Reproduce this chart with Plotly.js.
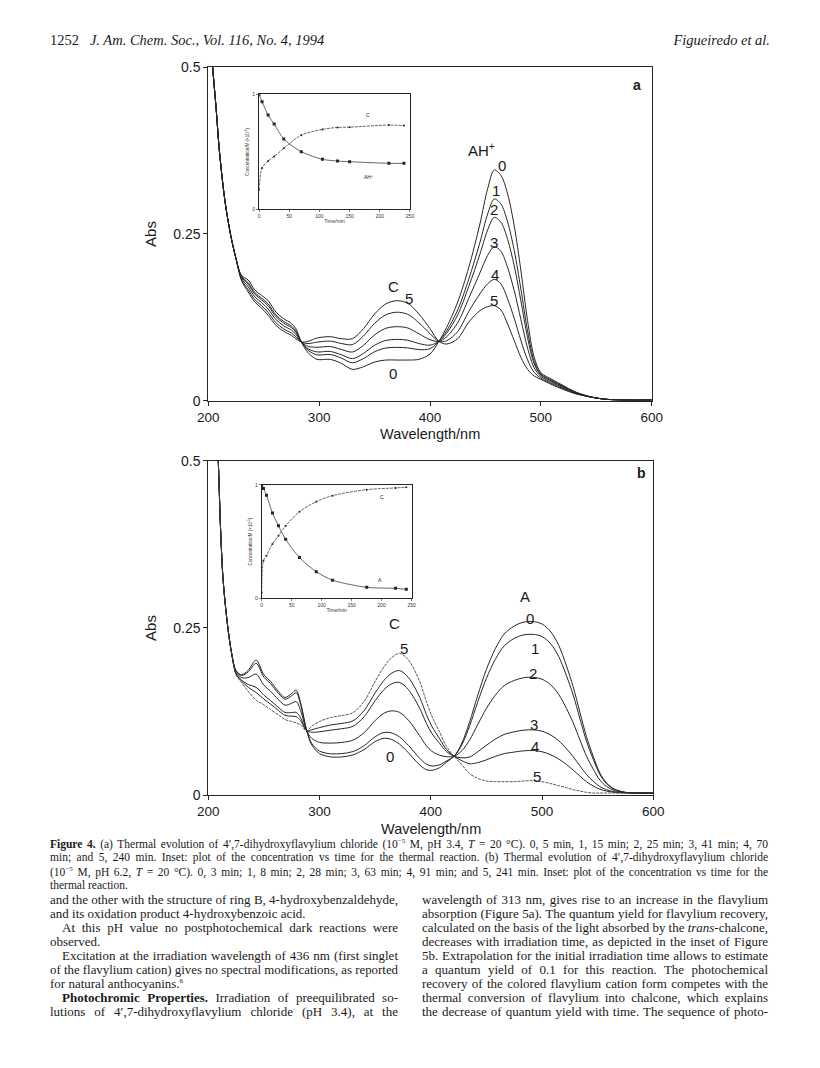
<!DOCTYPE html>
<html>
<head>
<meta charset="utf-8">
<script src="https://cdn.plot.ly/plotly-3.0.1.min.js"></script>
<style>
  html, body { margin:0; padding:0; background:#fff; }
  #page { position:relative; width:820px; height:1068px; overflow:hidden; background:#fff; }
  #chart { position:absolute; left:0; top:0; width:820px; height:1068px; }
  .ln { position:absolute; white-space:nowrap; font-family:'Liberation Serif','Times New Roman',serif; color:#1a1a1a; transform-origin:0 0; line-height:1; }
  .cap { font-size:11.5px; }
  .body { font-size:13px; }
  .hdr { font-size:14.5px; font-style:italic; }
</style>
</head>
<body>
<div id="page">
  <div id="chart"></div>

  <div class="ln hdr" style="left:50px;top:33px;"><span style="font-style:normal">1252</span>&nbsp;&nbsp;&nbsp;J. Am. Chem. Soc., Vol. 116, No. 4, 1994</div>
  <div class="ln hdr" id="hdrR" style="left:680px;top:33px;">Figueiredo et al.</div>

  <div class="ln cap" data-w="718" data-f="1" style="left:50px;top:838px;"><b>Figure 4.</b> (a) Thermal evolution of 4′,7-dihydroxyflavylium chloride (10<sup style="font-size:7px">−5</sup> M, pH 3.4, <i>T</i> = 20 °C). 0, 5 min, 1, 15 min; 2, 25 min; 3, 41 min; 4, 70</div>
  <div class="ln cap" data-w="718" data-f="1" style="left:50px;top:852px;">min; and 5, 240 min. Inset: plot of the concentration vs time for the thermal reaction. (b) Thermal evolution of 4′,7-dihydroxyflavylium chloride</div>
  <div class="ln cap" data-w="718" data-f="1" style="left:50px;top:866px;">(10<sup style="font-size:7px">−5</sup> M, pH 6.2, <i>T</i> = 20 °C). 0, 3 min; 1, 8 min; 2, 28 min; 3, 63 min; 4, 91 min; and 5, 241 min. Inset: plot of the concentration vs time for the</div>
  <div class="ln cap" data-w="718" data-f="0" style="left:50px;top:880px;">thermal reaction.</div>

  <div class="ln body" data-w="348" data-f="1" style="left:50px;top:893px;">and the other with the structure of ring B, 4-hydroxybenzaldehyde,</div>
  <div class="ln body" data-w="348" data-f="0" style="left:50px;top:907px;">and its oxidation product 4-hydroxybenzoic acid.</div>
  <div class="ln body" data-w="336" data-f="1" style="left:62px;top:921px;">At this pH value no postphotochemical dark reactions were</div>
  <div class="ln body" data-w="348" data-f="0" style="left:50px;top:935px;">observed.</div>
  <div class="ln body" data-w="336" data-f="1" style="left:62px;top:949px;">Excitation at the irradiation wavelength of 436 nm (first singlet</div>
  <div class="ln body" data-w="348" data-f="1" style="left:50px;top:963px;">of the flavylium cation) gives no spectral modifications, as reported</div>
  <div class="ln body" data-w="348" data-f="0" style="left:50px;top:977px;">for natural anthocyanins.<sup style="font-size:7px">6</sup></div>
  <div class="ln body" data-w="336" data-f="1" style="left:62px;top:991px;"><b>Photochromic Properties.</b> Irradiation of preequilibrated so-</div>
  <div class="ln body" data-w="348" data-f="1" style="left:50px;top:1005px;">lutions of 4′,7-dihydroxyflavylium chloride (pH 3.4), at the</div>

  <div class="ln body" data-w="346" data-f="1" style="left:422px;top:893px;">wavelength of 313 nm, gives rise to an increase in the flavylium</div>
  <div class="ln body" data-w="346" data-f="1" style="left:422px;top:907px;">absorption (Figure 5a). The quantum yield for flavylium recovery,</div>
  <div class="ln body" data-w="346" data-f="1" style="left:422px;top:921px;">calculated on the basis of the light absorbed by the <i>trans</i>-chalcone,</div>
  <div class="ln body" data-w="346" data-f="1" style="left:422px;top:935px;">decreases with irradiation time, as depicted in the inset of Figure</div>
  <div class="ln body" data-w="346" data-f="1" style="left:422px;top:949px;">5b. Extrapolation for the initial irradiation time allows to estimate</div>
  <div class="ln body" data-w="346" data-f="1" style="left:422px;top:963px;">a quantum yield of 0.1 for this reaction. The photochemical</div>
  <div class="ln body" data-w="346" data-f="1" style="left:422px;top:977px;">recovery of the colored flavylium cation form competes with the</div>
  <div class="ln body" data-w="346" data-f="1" style="left:422px;top:991px;">thermal conversion of flavylium into chalcone, which explains</div>
  <div class="ln body" data-w="346" data-f="1" style="left:422px;top:1005px;">the decrease of quantum yield with time. The sequence of photo-</div>
</div>

<script>
// ---------- Panel a: wavelength grid (nm) and absorbance of spectra 0..5 ----------
const WL_A = [202,204,207,210,215,220,225, 230,236,242,248,254,261,268,275,279,284,
  290,298,310,320,330,340,350,360,370,380,390,400,408,
  415,425,435,445,452,458,464,470,476,482,488,494,500,
  510,520,530,540,550,560,575,600];
const ABS_A0 = [0.56,0.50,0.44,0.375,0.30,0.25,0.213, 0.188,0.181,0.166,0.158,0.150,0.133,0.123,0.116,0.108,0.088,
  0.072,0.062,0.062,0.056,0.047,0.051,0.058,0.061,0.061,0.061,0.062,0.070,0.089,
  0.110,0.148,0.200,0.265,0.318,0.346,0.338,0.310,0.262,0.195,0.120,0.065,0.042,
  0.032,0.023,0.014,0.008,0.004,0.002,0.001,0.001];
const ABS_A1 = [0.56,0.50,0.44,0.375,0.30,0.25,0.213, 0.1863,0.1771,0.1621,0.1539,0.1453,0.1287,0.1189,0.1121,0.1048,0.088,
  0.0756,0.0688,0.0693,0.0639,0.0568,0.0632,0.0734,0.079,0.080,0.0792,0.0766,0.0781,0.089,
  0.1047,0.1362,0.1825,0.2372,0.2801,0.3025,0.2948,0.2683,0.2252,0.1672,0.1044,0.059,0.0399,
  0.0303,0.0217,0.0134,0.008,0.004,0.002,0.001,0.001];
const ABS_A2 = [0.56,0.50,0.44,0.375,0.30,0.25,0.213, 0.1852,0.1747,0.1597,0.1514,0.1423,0.126,0.1164,0.1097,0.1028,0.088,
  0.0779,0.0732,0.0739,0.0689,0.0631,0.0709,0.0831,0.0903,0.092,0.0907,0.0857,0.0833,0.089,
  0.1013,0.1288,0.1714,0.2196,0.2562,0.275,0.2675,0.2419,0.202,0.1496,0.0945,0.0552,0.0385,
  0.0292,0.0209,0.013,0.0077,0.004,0.002,0.001,0.001];
const ABS_A3 = [0.56,0.50,0.44,0.375,0.30,0.25,0.213, 0.1835,0.1708,0.1558,0.1473,0.1376,0.1217,0.1123,0.1058,0.0995,0.088,
  0.0816,0.0801,0.0812,0.0769,0.073,0.0832,0.0987,0.1085,0.111,0.109,0.1004,0.0915,0.089,
  0.0959,0.1169,0.1537,0.1916,0.218,0.231,0.2239,0.1998,0.1648,0.1216,0.0788,0.0492,0.0364,
  0.0275,0.0196,0.0123,0.0074,0.004,0.002,0.001,0.001];
const ABS_A4 = [0.56,0.50,0.44,0.375,0.30,0.25,0.213, 0.1816,0.1665,0.1515,0.1427,0.1323,0.1169,0.1077,0.1015,0.0959,0.088,
  0.0857,0.0878,0.0894,0.0858,0.0841,0.097,0.116,0.1287,0.1327,0.1295,0.1168,0.1006,0.089,
  0.0899,0.1037,0.1339,0.1602,0.1753,0.182,0.1752,0.1528,0.1234,0.0902,0.0612,0.0424,0.0339,
  0.0256,0.0182,0.0116,0.0072,0.004,0.002,0.001,0.001];
const ABS_A5 = [0.56,0.50,0.44,0.375,0.30,0.25,0.213, 0.180,0.163,0.148,0.139,0.128,0.113,0.104,0.098,0.093,0.088,
  0.089,0.094,0.096,0.093,0.093,0.108,0.130,0.145,0.150,0.146,0.130,0.108,0.089,
  0.085,0.093,0.118,0.135,0.141,0.1425,0.136,0.115,0.090,0.065,0.047,0.037,0.032,
  0.024,0.017,0.011,0.007,0.004,0.002,0.001,0.001];

// ---------- Panel b ----------
const WL_B = [207,209,211,213,215,218,221,225, 230,236,243,250,256,263,269,275,279,283,288.5,
  293,300,310,320,330,340,350,358,365,372,380,390,396,401,408,414,421,
  428,435,442,450,458,466,475,483,492,500,508,515,522,528,534,540,546,552,558,565,575,590,600];
const ABS_B0 = [0.58,0.50,0.40,0.33,0.29,0.245,0.212,0.186,
  0.180,0.187,0.202,0.180,0.170,0.155,0.146,0.152,0.157,0.138,0.096,
  0.075,0.062,0.057,0.057,0.060,0.068,0.080,0.085,0.083,0.076,0.063,0.045,0.038,0.037,0.041,0.049,0.058,
  0.078,0.110,0.148,0.188,0.219,0.241,0.253,0.2585,0.2595,0.256,0.244,0.224,0.193,0.162,0.124,0.087,0.058,0.033,0.018,0.009,0.004,0.003,0.003];
const ABS_B1 = [0.58,0.50,0.40,0.33,0.29,0.245,0.212,0.1855,
  0.179,0.1844,0.1972,0.1764,0.1666,0.1522,0.1434,0.1486,0.1531,0.1354,0.096,
  0.0772,0.0658,0.0617,0.062,0.065,0.0738,0.0872,0.0936,0.0928,0.0869,0.0741,0.055,0.0462,0.0435,0.0452,0.0509,0.058,
  0.0754,0.1038,0.1382,0.1746,0.2031,0.2233,0.2344,0.2395,0.2405,0.2371,0.2258,0.2072,0.1784,0.1497,0.1146,0.0804,0.0536,0.0306,0.0168,0.0085,0.004,0.003,0.003];
const ABS_B2 = [0.58,0.50,0.40,0.33,0.29,0.245,0.212,0.1839,
  0.1758,0.1758,0.181,0.1643,0.1553,0.1428,0.1345,0.1373,0.1399,0.1265,0.096,
  0.0848,0.0788,0.0777,0.0787,0.0821,0.0932,0.1115,0.1225,0.126,0.1236,0.1117,0.0888,0.0737,0.0654,0.0596,0.0574,0.058,
  0.0665,0.0827,0.1049,0.1296,0.1494,0.1637,0.1715,0.1754,0.1762,0.1734,0.1646,0.1505,0.1293,0.1081,0.0827,0.058,0.0388,0.0225,0.0128,0.0069,0.0037,0.003,0.003];
const ABS_B3 = [0.58,0.50,0.40,0.33,0.29,0.245,0.212,0.1819,
  0.1718,0.1652,0.1612,0.1494,0.1414,0.1312,0.1236,0.1234,0.1237,0.1156,0.096,
  0.094,0.0946,0.0971,0.0992,0.1028,0.117,0.1412,0.1578,0.1666,0.1685,0.1575,0.13,0.1074,0.0921,0.077,0.0653,0.058,
  0.0556,0.057,0.0644,0.0744,0.0837,0.0907,0.0946,0.097,0.0976,0.0955,0.0896,0.0812,0.0692,0.0573,0.0438,0.0306,0.0206,0.0126,0.0078,0.0049,0.0033,0.003,0.003];
const ABS_B4 = [0.58,0.50,0.40,0.33,0.29,0.245,0.212,0.1811,
  0.1703,0.1611,0.1534,0.1436,0.136,0.1267,0.1193,0.118,0.1173,0.1113,0.096,
  0.0977,0.1009,0.1048,0.1072,0.111,0.1263,0.1529,0.1717,0.1826,0.1862,0.1756,0.1463,0.1206,0.1026,0.0839,0.0684,0.058,
  0.0513,0.0468,0.0484,0.0527,0.0578,0.062,0.0643,0.0661,0.0666,0.0648,0.0601,0.0539,0.0456,0.0373,0.0284,0.0198,0.0135,0.0087,0.0059,0.0041,0.0032,0.003,0.003];
const ABS_B5 = [0.58,0.50,0.40,0.33,0.29,0.245,0.212,0.180,
  0.168,0.155,0.142,0.135,0.128,0.120,0.113,0.110,0.108,0.105,0.096,
  0.103,0.110,0.116,0.119,0.123,0.140,0.170,0.192,0.206,0.212,0.202,0.170,0.140,0.118,0.094,0.073,0.058,
  0.045,0.032,0.025,0.021,0.020,0.020,0.020,0.021,0.0214,0.020,0.017,0.014,0.011,0.008,0.006,0.004,0.003,0.003,0.003,0.003,0.003,0.003,0.003];

// ---------- Insets: concentration (x1e-5 M) vs time (min) ----------
const INSET_A_T = [0, 5, 15, 25, 41, 70, 105, 130, 150, 215, 240];
const INSET_A_AH = [1.0, 0.936, 0.82, 0.742, 0.612, 0.501, 0.435, 0.42, 0.414, 0.40, 0.40];
const INSET_A_C  = [0.17, 0.36, 0.42, 0.46, 0.53, 0.645, 0.695, 0.712, 0.714, 0.733, 0.728];
const INSET_B_T = [0, 3, 8, 18, 28, 40, 63, 91, 118, 175, 223, 241];
const INSET_B_A = [0.994, 0.97, 0.91, 0.753, 0.64, 0.52, 0.359, 0.235, 0.16, 0.097, 0.088, 0.079];
const INSET_B_C = [0.05, 0.332, 0.376, 0.48, 0.553, 0.64, 0.764, 0.853, 0.906, 0.959, 0.974, 0.98];

const X_TICKS = [200, 300, 400, 500, 600];
const Y_TICKS = [0, 0.25, 0.5];
const Y_TICKTEXT = ['0', '0.25', '0.5'];
const T_TICKS = [0, 50, 100, 150, 200, 250];

const INK = '#262626';
function spec(x, y, xa, ya, extra) {
  return Object.assign({ x: x, y: y, xaxis: xa, yaxis: ya, type: 'scatter', mode: 'lines',
    line: { color: INK, width: 1, shape: 'spline', smoothing: 0.9 }, hoverinfo: 'skip' }, extra || {});
}
const traces = [];
[ABS_A0, ABS_A1, ABS_A2, ABS_A3, ABS_A4, ABS_A5].forEach(v => traces.push(spec(WL_A, v, 'x', 'y')));
[ABS_B0, ABS_B1, ABS_B2, ABS_B3, ABS_B4].forEach(v => traces.push(spec(WL_B, v, 'x2', 'y2')));
traces.push(spec(WL_B, ABS_B5, 'x2', 'y2', { line: { color: '#444', width: 0.9, shape: 'spline', smoothing: 0.9, dash: '3px,1px' } }));

function inset(t, y, xa, ya, sym, size, dash) {
  return { x: t, y: y, xaxis: xa, yaxis: ya, type: 'scatter', mode: 'lines+markers',
    line: { color: INK, width: 0.7, shape: 'spline', smoothing: 0.8, dash: dash || 'solid' },
    marker: { symbol: sym, size: size, color: INK }, hoverinfo: 'skip' };
}
traces.push(inset(INSET_A_T, INSET_A_AH, 'x3', 'y3', 'square', 3, 'solid'));
traces.push(inset(INSET_A_T, INSET_A_C, 'x3', 'y3', 'circle', 2, '3px,1px'));
traces.push(inset(INSET_B_T, INSET_B_A, 'x4', 'y4', 'square', 3, 'solid'));
traces.push(inset(INSET_B_T, INSET_B_C, 'x4', 'y4', 'circle', 2, '3px,1px'));

function mainX(domain, anchor) {
  return { domain: domain, anchor: anchor, range: [200, 600], tickmode: 'array', tickvals: X_TICKS,
    ticks: 'outside', ticklen: 4, tickwidth: 1, tickcolor: INK, showline: true, mirror: true,
    linecolor: INK, linewidth: 1, showgrid: false, zeroline: false,
    tickfont: { size: 13.5, color: '#1a1a1a' } };
}
function mainY(domain, anchor) {
  return { domain: domain, anchor: anchor, range: [0, 0.5], tickmode: 'array', tickvals: Y_TICKS, ticktext: Y_TICKTEXT,
    ticks: 'outside', ticklen: 4, tickwidth: 1, tickcolor: INK, showline: true, mirror: true,
    linecolor: INK, linewidth: 1, showgrid: false, zeroline: false,
    tickfont: { size: 14, color: '#1a1a1a' },
    title: { text: 'Abs', font: { size: 15, color: '#1a1a1a' }, standoff: 12 } };
}
function insetX(domain, anchor) {
  return { domain: domain, anchor: anchor, range: [0, 250], tickmode: 'array', tickvals: T_TICKS,
    ticks: 'outside', ticklen: 2, tickwidth: 0.6, tickcolor: INK, showline: true, mirror: true,
    linecolor: INK, linewidth: 1, showgrid: false, zeroline: false,
    tickfont: { size: 5, color: '#333' },
    title: { text: 'Time/min', font: { size: 5, color: '#333' }, standoff: 1 } };
}
function insetY(domain, anchor) {
  return { domain: domain, anchor: anchor, range: [0, 1], tickmode: 'array', tickvals: [0, 1],
    ticks: 'outside', ticklen: 2, tickwidth: 0.6, tickcolor: INK, showline: true, mirror: true,
    linecolor: INK, linewidth: 1, showgrid: false, zeroline: false,
    tickfont: { size: 5, color: '#333' },
    title: { text: 'Concentration/M (×10<sup>-5</sup>)', font: { size: 4.5, color: '#333' }, standoff: 2 } };
}

function lab(x, y, text, xr, yr, size) {
  return { x: x, y: y, xref: xr, yref: yr, text: text, showarrow: false,
    font: { size: size || 15, color: '#1a1a1a', family: 'Liberation Sans, Arial, sans-serif' } };
}
const annotations = [
  // x-axis titles (placed in paper space, centred under each panel)
  { x: 0.5245, y: 1 - 434.5 / 1068, xref: 'paper', yref: 'paper', text: 'Wavelength/nm', showarrow: false,
    xanchor: 'center', yanchor: 'middle', font: { size: 14.5, color: '#1a1a1a' } },
  { x: 0.5253, y: 1 - 828.5 / 1068, xref: 'paper', yref: 'paper', text: 'Wavelength/nm', showarrow: false,
    xanchor: 'center', yanchor: 'middle', font: { size: 14.5, color: '#1a1a1a' } },

  lab(587, 0.474, '<b>a</b>', 'x', 'y', 14),
  lab(446.7, 0.377, 'AH<sup>+</sup>', 'x', 'y', 15),
  lab(465.3, 0.352, '0', 'x', 'y'), lab(459.3, 0.315, '1', 'x', 'y'),
  lab(458, 0.287, '2', 'x', 'y'), lab(458, 0.238, '3', 'x', 'y'),
  lab(458.7, 0.19, '4', 'x', 'y'), lab(458, 0.15, '5', 'x', 'y'),
  lab(367, 0.171, 'C', 'x', 'y'), lab(381.4, 0.1535, '5', 'x', 'y'),
  lab(366.4, 0.041, '0', 'x', 'y'),

  lab(589.5, 0.4815, '<b>b</b>', 'x2', 'y2', 14),
  lab(484.6, 0.297, 'A', 'x2', 'y2'),
  lab(489.1, 0.2645, '0', 'x2', 'y2'), lab(493.6, 0.2196, '1', 'x2', 'y2'),
  lab(492.1, 0.182, '2', 'x2', 'y2'), lab(492.7, 0.1058, '3', 'x2', 'y2'),
  lab(493.6, 0.0733, '4', 'x2', 'y2'), lab(495.1, 0.0274, '5', 'x2', 'y2'),
  lab(367.8, 0.256, 'C', 'x2', 'y2'), lab(375.9, 0.2196, '5', 'x2', 'y2'),
  lab(363.3, 0.0574, '0', 'x2', 'y2'),

  lab(181, 0.82, 'C', 'x3', 'y3', 5), lab(181, 0.278, 'AH<sup>+</sup>', 'x3', 'y3', 5),
  lab(200, 0.897, 'C', 'x4', 'y4', 5), lab(197, 0.16, 'A', 'x4', 'y4', 5)
];

const layout = {
  width: 820, height: 1068, margin: { l: 0, r: 0, t: 0, b: 0 },
  paper_bgcolor: 'rgba(0,0,0,0)', plot_bgcolor: 'rgba(0,0,0,0)', showlegend: false,
  font: { family: 'Liberation Sans, Arial, sans-serif', color: '#1a1a1a' },
  xaxis: mainX([0.254, 0.7948], 'y'),
  yaxis: mainY([0.6248, 0.937], 'x'),
  xaxis2: mainX([0.254, 0.7967], 'y2'),
  yaxis2: mainY([0.2556, 0.5684], 'x2'),
  xaxis3: insetX([0.3159, 0.5], 'y3'),
  yaxis3: insetY([0.804, 0.9117], 'x3'),
  xaxis4: insetX([0.3191, 0.5021], 'y4'),
  yaxis4: insetY([0.4398, 0.5459], 'x4'),
  annotations: annotations
};

Plotly.newPlot('chart', traces, layout, { staticPlot: true, displayModeBar: false });

// fit text lines to their column width (justified typesetting)
function fitLines() {
  document.querySelectorAll('.ln[data-w]').forEach(el => {
    const w = +el.dataset.w, full = el.dataset.f === '1';
    el.style.transform = ''; el.style.wordSpacing = '';
    const nat = el.getBoundingClientRect().width;
    const spaces = (el.textContent.match(/ /g) || []).length;
    if (full) {
      if (nat <= w && spaces > 0) { el.style.wordSpacing = ((w - nat) / spaces) + 'px'; }
      else if (nat > w) { el.style.transform = 'scaleX(' + (w / nat) + ')'; }
    } else if (nat > w) { el.style.transform = 'scaleX(' + (w / nat) + ')'; }
  });
  const r = document.getElementById('hdrR');
  const rw = r.getBoundingClientRect().width;
  r.style.left = (770 - rw) + 'px';
}
fitLines();
</script>
</body>
</html>
